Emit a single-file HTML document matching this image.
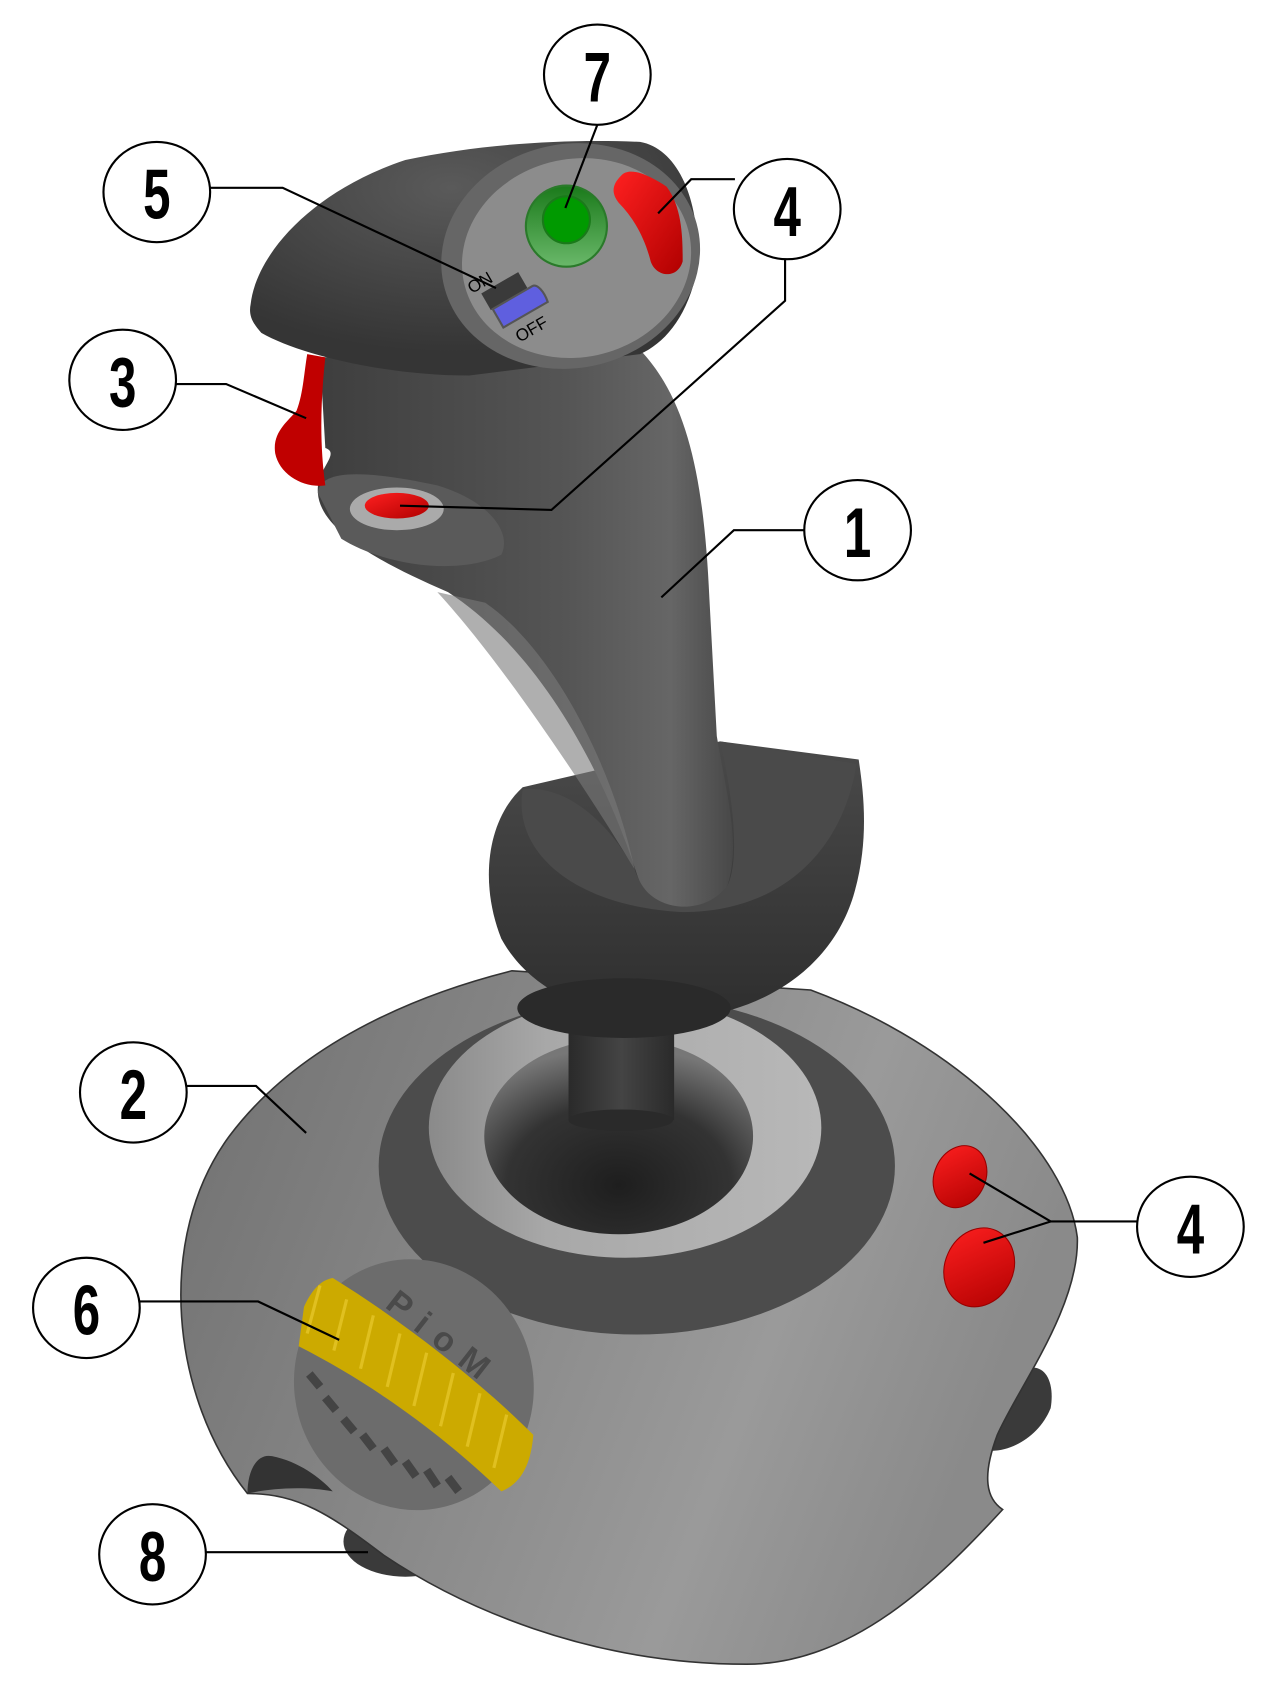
<!DOCTYPE html>
<html><head><meta charset="utf-8"><style>html,body{margin:0;padding:0;background:#fff}svg{display:block}</style></head>
<body>
<svg width="1280" height="1693" viewBox="0 0 1200 1587" preserveAspectRatio="none" xmlns="http://www.w3.org/2000/svg">
<defs>
<linearGradient id="base" x1="0" y1="0" x2="1" y2="0.3"><stop offset="0" stop-color="#707070"/><stop offset="0.75" stop-color="#9a9a9a"/><stop offset="1" stop-color="#8a8a8a"/></linearGradient>
<linearGradient id="ring" x1="0" y1="0" x2="1" y2="0"><stop offset="0" stop-color="#8a8a8a"/><stop offset="0.3" stop-color="#a8a8a8"/><stop offset="1" stop-color="#b8b8b8"/></linearGradient>
<radialGradient id="cup" cx="0.5" cy="0.75" r="0.7"><stop offset="0" stop-color="#1e1e1e"/><stop offset="0.6" stop-color="#333"/><stop offset="1" stop-color="#777"/></radialGradient>
<linearGradient id="shaft" x1="0" y1="0" x2="1" y2="0"><stop offset="0" stop-color="#2a2a2a"/><stop offset="0.5" stop-color="#444"/><stop offset="1" stop-color="#2a2a2a"/></linearGradient>
<linearGradient id="grip" x1="0" y1="0" x2="1" y2="0"><stop offset="0" stop-color="#3e3e3e"/><stop offset="0.6" stop-color="#555"/><stop offset="0.85" stop-color="#666"/><stop offset="1" stop-color="#484848"/></linearGradient>
<radialGradient id="head" cx="0.45" cy="0.2" r="0.7"><stop offset="0" stop-color="#5a5a5a"/><stop offset="1" stop-color="#353535"/></radialGradient>
<linearGradient id="collar" x1="0" y1="0" x2="0" y2="1"><stop offset="0" stop-color="#4a4a4a"/><stop offset="1" stop-color="#2e2e2e"/></linearGradient>
<linearGradient id="red" x1="0" y1="0" x2="1" y2="1"><stop offset="0" stop-color="#ff2020"/><stop offset="1" stop-color="#b00000"/></linearGradient>
<linearGradient id="grn" x1="0" y1="0" x2="0" y2="1"><stop offset="0" stop-color="#1a7a1a"/><stop offset="1" stop-color="#6ab86a"/></linearGradient>
</defs>

<ellipse cx="380" cy="1445" rx="58" ry="33" fill="#3a3a3a"/>
<path d="M950,1290 C975,1270 990,1290 985,1320 C975,1345 950,1360 930,1360 Z" fill="#3a3a3a"/>
<path d="M232,1400 C160,1310 145,1160 215,1065 C290,965 420,925 480,910 L760,928 C900,980 1000,1080 1010,1160 C1012,1225 955,1300 935,1345 C920,1385 925,1405 940,1415 C880,1480 800,1560 700,1560 C550,1560 430,1505 360,1458 C310,1420 280,1400 232,1400 Z" fill="url(#base)" stroke="#333" stroke-width="1.5"/>
<path d="M232,1400 C232,1380 240,1362 255,1365 C280,1370 300,1385 312,1398 C285,1393 255,1395 232,1400 Z" fill="#333"/>
<ellipse cx="597" cy="1093" rx="242" ry="158" fill="#4c4c4c"/>
<ellipse cx="586" cy="1057" rx="184" ry="122" fill="url(#ring)"/>
<ellipse cx="580" cy="1065" rx="126" ry="92" fill="url(#cup)"/>
<rect x="533" y="955" width="99" height="95" fill="url(#shaft)"/>
<ellipse cx="582" cy="1050" rx="49" ry="10" fill="#2a2a2a"/>
<!-- collar -->
<path d="M490,738 C455,770 450,830 470,880 C500,935 570,960 640,955 C720,948 780,905 800,840 C815,790 810,745 805,712 L675,695 Z" fill="url(#collar)"/>
<ellipse cx="585" cy="945" rx="100" ry="28" fill="#2a2a2a"/>
<path d="M490,740 C480,800 540,850 640,855 C730,855 790,800 803,716 L675,695 C690,760 692,810 682,830 C655,860 605,850 595,815 C570,770 530,735 490,740 Z" fill="#4a4a4a"/>
<!-- grip -->
<path d="M300,335 L600,328 C645,375 660,450 665,560 L672,690 C680,740 695,790 682,830 C660,860 610,855 598,822 C565,720 505,610 420,555 C350,525 300,495 298,462 C296,440 320,425 305,420 Z" fill="url(#grip)"/>
<path d="M410,555 C470,620 550,740 595,815 C575,720 520,610 455,565 Z" fill="#7a7a7a" opacity="0.6"/>
<path d="M298,462 C300,440 340,440 410,455 C460,470 480,500 470,520 C430,540 360,530 320,505 Z" fill="#5a5a5a"/>
<ellipse cx="372" cy="477" rx="44" ry="20" fill="#aaa"/>
<ellipse cx="372" cy="474" rx="30" ry="12" fill="url(#red)"/>
<path d="M288,332 L305,335 C300,380 300,420 305,455 C285,458 262,445 258,425 C255,405 270,395 278,385 C284,370 285,350 288,332 Z" fill="#c00000"/>
<!-- head -->
<path d="M235,285 C240,240 290,180 380,150 C450,135 530,130 600,133 C640,140 660,200 652,260 C642,300 622,322 600,332 L440,352 C360,352 280,332 245,312 C236,302 233,295 235,285 Z" fill="url(#head)"/>
<g transform="rotate(-12 535 240)"><ellipse cx="535" cy="240" rx="122" ry="105" fill="#666"/><ellipse cx="540" cy="243" rx="108" ry="93" fill="#8c8c8c"/></g>
<circle cx="531" cy="212" r="38" fill="url(#grn)" stroke="#2a7a2a" stroke-width="2"/>
<circle cx="531" cy="206" r="22" fill="#009a00" stroke="#1a7a1a" stroke-width="2"/>
<path d="M582,165 C590,155 610,165 625,175 C640,195 640,225 640,245 C635,262 615,260 610,245 C605,225 595,205 580,190 C572,180 575,172 582,165 Z" fill="url(#red)"/>
<g transform="rotate(-30 480 285)">
<rect x="460" y="262" width="40" height="18" fill="#3a3a3a"/>
<path d="M462,280 L505,280 C510,280 512,290 510,300 L462,300 Z" fill="#5f5fdf" stroke="#555" stroke-width="2"/>
<text x="452" y="258" font-family="Liberation Sans,sans-serif" font-size="16">ON</text>
<text x="468" y="320" font-family="Liberation Sans,sans-serif" font-size="16">OFF</text>
</g>
<!-- wheel 6 -->
<ellipse cx="388" cy="1298" rx="112" ry="118" fill="#6c6c6c" transform="rotate(-15 388 1298)"/>
<g stroke="#444" stroke-width="8">
<line x1="290" y1="1288" x2="300" y2="1300"/><line x1="305" y1="1310" x2="315" y2="1322"/><line x1="322" y1="1330" x2="332" y2="1342"/><line x1="340" y1="1345" x2="350" y2="1358"/><line x1="360" y1="1358" x2="370" y2="1372"/><line x1="380" y1="1370" x2="390" y2="1384"/><line x1="400" y1="1378" x2="410" y2="1393"/><line x1="420" y1="1385" x2="430" y2="1398"/></g>
<path d="M285,1225 C292,1210 300,1200 312,1198 C380,1240 450,1295 500,1345 C498,1370 490,1390 470,1398 C420,1350 355,1300 280,1262 Z" fill="#ccaa00"/>
<g stroke="#e0c020" stroke-width="3" fill="none"><path d="M300,1205 l-12,45"/><path d="M325,1218 l-12,48"/><path d="M350,1233 l-12,50"/><path d="M375,1250 l-12,50"/><path d="M400,1268 l-12,50"/><path d="M425,1287 l-12,50"/><path d="M450,1306 l-12,50"/><path d="M475,1326 l-12,50"/></g>
<text x="360" y="1225" font-family="Liberation Sans,sans-serif" font-weight="bold" font-size="32" fill="#4a4a4a" letter-spacing="12" transform="rotate(38 360 1225)">PioM</text>
<ellipse cx="900" cy="1103" rx="24" ry="30" fill="url(#red)" stroke="#900" transform="rotate(25 900 1103)"/>
<ellipse cx="918" cy="1188" rx="32" ry="38" fill="url(#red)" stroke="#900" transform="rotate(25 918 1188)"/>

<g stroke="#000" stroke-width="2" fill="none">
<path d="M560,117 L530,195"/>
<path d="M197,176 L265,176 L465,270"/>
<path d="M689,168 L648,168 L617,200"/>
<path d="M736,243 L736,282 L517,478 L375,474"/>
<path d="M165,360 L212,360 L287,392"/>
<path d="M755,497 L688,497 L620,560"/>
<path d="M175,1018 L240,1018 L287,1062"/>
<path d="M1068,1145 L985,1145 L909,1100 M985,1145 L922,1165"/>
<path d="M130,1220 L242,1220 L318,1256"/>
<path d="M193,1455 L278,1455 L345,1455"/>
</g>
<g fill="#fff" stroke="#000" stroke-width="2">
<ellipse cx="560" cy="70" rx="50" ry="47"/><ellipse cx="147" cy="180" rx="50" ry="47"/><ellipse cx="738" cy="196" rx="50" ry="47"/><ellipse cx="115" cy="356" rx="50" ry="47"/><ellipse cx="804" cy="497" rx="50" ry="47"/><ellipse cx="125" cy="1024" rx="50" ry="47"/><ellipse cx="1116" cy="1150" rx="50" ry="47"/><ellipse cx="81" cy="1226" rx="50" ry="47"/><ellipse cx="143" cy="1457" rx="50" ry="47"/>
</g>
<g font-family="Liberation Sans,sans-serif" font-weight="bold" font-size="66" text-anchor="middle">
<text transform="translate(560,95) scale(0.7,1)">7</text>
<text transform="translate(147,205) scale(0.7,1)">5</text>
<text transform="translate(738,221) scale(0.7,1)">4</text>
<text transform="translate(115,381) scale(0.7,1)">3</text>
<text transform="translate(804,522) scale(0.7,1)">1</text>
<text transform="translate(125,1049) scale(0.7,1)">2</text>
<text transform="translate(1116,1175) scale(0.7,1)">4</text>
<text transform="translate(81,1251) scale(0.7,1)">6</text>
<text transform="translate(143,1482) scale(0.7,1)">8</text>
</g>
</svg>
</body></html>
